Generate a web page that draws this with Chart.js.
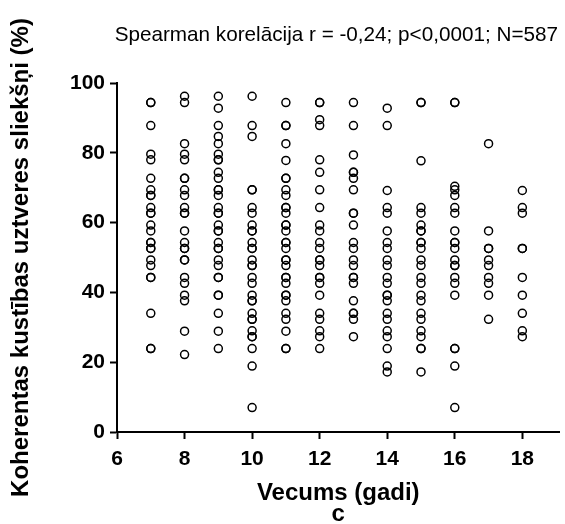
<!DOCTYPE html>
<html><head><meta charset="utf-8">
<script src="https://cdn.jsdelivr.net/npm/chart.js@4/dist/chart.umd.min.js"></script>
<style>html,body{margin:0;padding:0;background:#fff;}#wrap{width:565px;height:524px;}</style>
</head><body><div id="wrap"><canvas id="c" width="565" height="524"></canvas></div>
<script>
const ages = [7, 8, 9, 10, 11, 12, 13, 14, 15, 16, 17, 18];
const age7 = [94.4, 94.4, 87.8, 79.6, 78.0, 72.7, 69.4, 67.8, 67.8, 64.3, 62.7, 62.7, 59.3, 57.6, 54.3, 54.3, 52.6, 52.6, 49.3, 47.7, 44.3, 44.3, 34.0, 23.9, 23.9];
const age8 = [96.2, 94.4, 82.6, 79.6, 78.0, 72.7, 72.7, 69.4, 67.8, 64.3, 62.7, 62.7, 57.6, 54.3, 52.6, 52.6, 49.3, 49.3, 44.3, 42.6, 39.2, 37.6, 28.9, 22.2];
const age9 = [96.2, 92.8, 87.8, 84.7, 82.6, 79.6, 78.0, 78.0, 74.4, 72.7, 69.4, 69.4, 67.8, 64.3, 62.7, 62.7, 59.3, 57.6, 57.6, 54.3, 52.6, 52.6, 49.3, 47.7, 44.3, 44.3, 39.2, 39.2, 34.0, 28.9, 23.9];
const age10 = [96.2, 87.8, 84.7, 69.4, 69.4, 64.3, 62.7, 59.3, 57.6, 57.6, 54.3, 52.6, 52.6, 49.3, 47.7, 47.7, 44.3, 42.6, 39.2, 37.6, 37.6, 34.0, 32.3, 32.3, 29.0, 27.3, 27.3, 23.9, 18.9, 7.0];
const age11 = [94.4, 87.8, 87.8, 82.6, 77.8, 72.7, 72.7, 69.4, 67.8, 64.3, 64.3, 62.7, 59.3, 59.3, 57.6, 54.3, 54.3, 52.6, 49.3, 49.3, 47.7, 44.3, 44.3, 42.6, 39.2, 39.2, 37.6, 34.0, 32.3, 28.9, 23.9, 23.9];
const age12 = [94.4, 94.4, 89.5, 87.8, 78.0, 74.4, 69.4, 64.3, 59.3, 57.6, 54.3, 52.6, 49.3, 49.3, 47.7, 44.3, 44.3, 42.6, 39.2, 34.0, 32.3, 29.0, 27.3, 23.9];
const age13 = [94.4, 87.8, 79.4, 74.4, 74.4, 72.7, 69.4, 62.7, 62.7, 59.3, 54.3, 52.6, 49.3, 47.7, 44.3, 44.3, 42.6, 37.6, 34.0, 34.0, 32.3, 27.3];
const age14 = [92.8, 87.8, 69.2, 64.3, 62.7, 57.6, 54.3, 52.6, 49.3, 47.7, 44.3, 42.6, 39.2, 39.2, 37.6, 34.0, 32.3, 29.0, 27.3, 23.9, 18.9, 17.2];
const age15 = [94.4, 94.4, 77.7, 64.3, 62.7, 59.3, 57.6, 57.6, 54.3, 54.3, 52.6, 49.3, 47.7, 44.3, 42.6, 39.2, 37.6, 34.0, 32.3, 29.0, 27.3, 23.9, 23.9, 17.2];
const age16 = [94.4, 94.4, 70.4, 69.4, 67.8, 64.3, 62.7, 57.6, 54.3, 54.3, 52.6, 49.3, 47.7, 47.7, 44.3, 42.6, 39.2, 23.9, 23.9, 18.9, 7.0];
const age17 = [82.6, 57.6, 52.6, 52.6, 49.3, 47.7, 44.3, 42.6, 39.2, 32.3];
const age18 = [69.2, 64.3, 62.7, 52.6, 52.6, 44.3, 39.2, 34.0, 29.0, 27.3];
const thresholdsByAge = [age7, age8, age9, age10, age11, age12, age13, age14, age15, age16, age17, age18];
const xTicks = [6, 8, 10, 12, 14, 16, 18];
const yTicks = [0, 20, 40, 60, 80, 100];
const xTitle = ['Vecums (gadi)', 'c'];
const yTitle = 'Koherentas kustības uztveres sliekšņi (%)';
const statText = 'Spearman korelācija r = -0,24; p<0,0001; N=587';

const points = [];
ages.forEach((a, i) => thresholdsByAge[i].forEach(v => points.push({x: a, y: v})));

const FONT = '"Liberation Sans", Arial, Helvetica, sans-serif';

const statPlugin = {
  id: 'statText',
  afterDraw(chart) {
    const ctx = chart.ctx;
    ctx.save();
    ctx.font = '20.7px ' + FONT;
    ctx.fillStyle = '#000';
    ctx.textAlign = 'right';
    ctx.textBaseline = 'middle';
    ctx.fillText(statText, 558, 35);
    ctx.restore();
  }
};

const axisCommon = {
  grid: {drawOnChartArea: false, drawTicks: true, tickLength: 7, tickWidth: 2, tickColor: '#000'},
  border: {display: true, color: '#000', width: 2}
};

new Chart(document.getElementById('c'), {
  type: 'scatter',
  data: {datasets: [{
    data: points,
    pointStyle: 'circle',
    pointRadius: 4,
    pointBorderWidth: 1.5,
    borderColor: '#000',
    backgroundColor: 'rgba(0,0,0,0)',
    pointBackgroundColor: 'rgba(0,0,0,0)',
    pointBorderColor: '#000'
  }]},
  options: {
    responsive: false,
    animation: false,
    devicePixelRatio: 1,
    layout: {padding: {top: 83, right: 0, bottom: 0, left: 0}},
    plugins: {legend: {display: false}, tooltip: {enabled: false}, title: {display: false}},
    scales: {
      x: {
        type: 'linear', position: 'bottom', min: 6, max: 19.1,
        afterBuildTicks: s => { s.ticks = xTicks.map(v => ({value: v})); },
        afterFit: s => { s.height = 92; },
        ...axisCommon,
        ticks: {color: '#000', font: {family: FONT, size: 21, weight: 'bold'}, padding: 8, maxRotation: 0, autoSkip: false},
        title: {display: true, text: xTitle, color: '#000', font: {family: FONT, size: 24, weight: 'bold', lineHeight: 0.875}, padding: {top: 0, bottom: -1}}
      },
      y: {
        type: 'linear', position: 'left', min: 0, max: 100,
        afterBuildTicks: s => { s.ticks = yTicks.map(v => ({value: v})); },
        afterFit: s => { s.width = 117; },
        ...axisCommon,
        ticks: {color: '#000', font: {family: FONT, size: 21, weight: 'bold'}, padding: 5},
        title: {display: true, text: yTitle, color: '#000', font: {family: FONT, size: 24, weight: 'bold'}, padding: {top: 7, bottom: 0}}
      }
    }
  },
  plugins: [statPlugin]
});
</script></body></html>
